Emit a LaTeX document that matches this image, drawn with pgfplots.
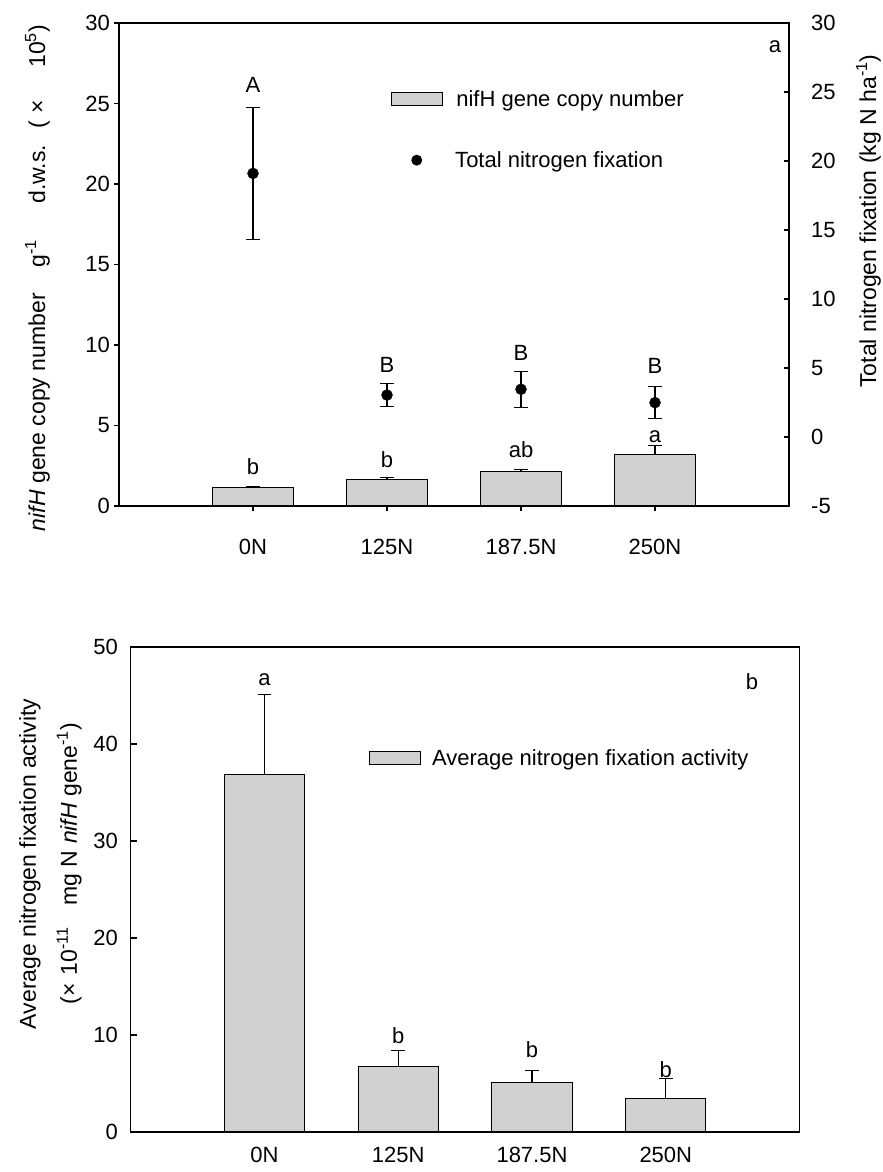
\documentclass[border=0pt]{standalone}
\usepackage{pgfplots}
\pgfplotsset{compat=1.18}
\usepackage{pgfplotstable}
\usepackage{fontspec}
\setmainfont{Liberation Sans}
\definecolor{barfill}{RGB}{208,209,208}
\newcommand{\fs}{\fontsize{22}{26}\selectfont}
\newcommand{\fl}{\fontsize{23}{27}\selectfont}

\pgfplotstableread{
x y e
1 1.15 0.07
2 1.67 0.10
3 2.17 0.11
4 3.21 0.54
}\nifh
\pgfplotstableread{
x y e
1 19.10 4.78
2 3.04 0.85
3 3.46 1.29
4 2.49 1.18
}\fix
\pgfplotstableread{
x y e
1 36.90 8.20
2 6.75 1.70
3 5.10 1.23
4 3.45 2.05
}\act

\pgfplotsset{
  common/.style={scale only axis, anchor=south west, xmin=0, xmax=5,
    /pgf/number format/assume math mode=true,
    axis line style={line width=1.1pt},
    every tick/.style={black, line width=1.1pt},
    tick label style={font=\fs},
    clip=false,
  },
  barplot/.style={ybar, bar width=0.6, bar shift=0pt, fill=barfill, draw=black, line width=1.1pt,
    legend image code/.code={\draw[fill=barfill, line width=1.1pt] (0pt,-6.25pt) rectangle (51pt,6.25pt);},
    error bars/.cd, y dir=plus, y explicit,
    error bar style={line width=1.1pt, black},
    error mark options={rotate=90, mark size=6.75pt, line width=1.1pt, black}},
}

\begin{document}
\begin{tikzpicture}[font=\fs]
\path[use as bounding box] (0pt,-1172pt) rectangle (883pt,0pt);

% ---------- top panel, left axis ----------
\begin{axis}[common,
  at={(119pt,-506pt)}, width=670pt, height=483pt,
  ymin=0, ymax=30, ytick={0,5,...,30},
  xtick={1,2,3,4}, xticklabels={0N,125N,187.5N,250N},
  xtick pos=bottom, ytick pos=left, tick align=outside, major tick length=5pt,
  xticklabel style={anchor=base, yshift=-43pt},
  yticklabel style={anchor=east, inner sep=0pt, xshift=-4pt},
  every axis y label/.style={at={(axis description cs:-0.1104,0.472)}, rotate=90, anchor=base, font=\fl},
  ylabel={\textit{nifH} gene copy number\hspace{26pt}g\textsuperscript{-1}\hspace{36pt}d.w.s.\hspace{16pt}(\hspace{8pt}×\hspace{32pt}10\textsuperscript{5})},
  legend style={draw=none, fill=none, at={(0.406,0.843)}, anchor=west, inner sep=0pt,
    column sep=13pt, nodes={inner sep=0pt, font=\fs}},
  legend cell align=left,
]
\addplot[barplot] table[x=x, y=y, y error=e]{\nifh};
\addlegendentry{nifH gene copy number}
\node at (axis cs:1,2.45) {b};
\node at (axis cs:2,2.88) {b};
\node at (axis cs:3,3.50) {ab};
\node at (axis cs:4,4.32) {a};
\node at (axis cs:1,26.16) {A};
\node at (axis cs:2,8.78) {B};
\node at (axis cs:3,9.50) {B};
\node at (axis cs:4,8.68) {B};
\node at (axis cs:4.896,28.5) {a};
\end{axis}

% ---------- top panel, right axis ----------
\begin{axis}[common,
  at={(119pt,-506pt)}, width=670pt, height=483pt,
  ymin=-5, ymax=30, ytick={-5,0,...,30},
  hide x axis, axis y line*=right, tick align=inside, major tick length=5pt,
  yticklabel style={anchor=west, inner sep=0pt, xshift=22pt},
  every axis y label/.style={at={(axis description cs:1.13,0.59)}, rotate=90, anchor=base, font=\fl},
  ylabel={Total nitrogen fixation (kg N ha\textsuperscript{-1})},
  legend style={draw=none, fill=none, at={(0.406,0.716)}, anchor=west, inner sep=0pt,
    column sep=13pt, nodes={inner sep=0pt, font=\fs}},
  legend cell align=left,
]
\addplot[only marks, mark=*, mark size=5.5pt, black,
  legend image code/.code={\path[draw=none] (0pt,0pt) -- (51pt,0pt); \fill[black, draw=none] (25.5pt,0pt) circle (5.5pt);},
  error bars/.cd, y dir=both, y explicit,
  error bar style={line width=1.1pt, black},
  error mark options={rotate=90, mark size=6.75pt, line width=1.1pt, black}]
  table[x=x, y=y, y error=e]{\fix};
\addlegendentry{Total nitrogen fixation}
\end{axis}

% ---------- bottom panel ----------
\begin{axis}[common,
  at={(130.6pt,-1132pt)}, width=669pt, height=485pt,
  ymin=0, ymax=50, ytick={0,10,...,50},
  xtick={1,2,3,4}, xticklabels={0N,125N,187.5N,250N},
  xtick pos=bottom, ytick pos=left, tick align=inside, major tick length=6pt,
  xtick style={draw=none},
  xticklabel style={anchor=base, yshift=-30pt},
  yticklabel style={anchor=east, inner sep=0pt, xshift=-12.6pt},
  every axis y label/.style={at={(axis description cs:-0.068,0.553)}, rotate=90, anchor=south, align=center, font=\fl},
  ylabel={Average nitrogen fixation activity\\[14pt](×\hspace{8pt}10\textsuperscript{-11}\hspace{22pt}mg N \textit{nifH} gene\textsuperscript{-1})},
  legend style={draw=none, fill=none, at={(0.356,0.771)}, anchor=west, inner sep=0pt,
    column sep=11pt, nodes={inner sep=0pt, font=\fs}},
  legend cell align=left,
]
\addplot[barplot] table[x=x, y=y, y error=e]{\act};
\addlegendentry{Average nitrogen fixation activity}
\node at (axis cs:1,46.6) {a};
\node at (axis cs:2,9.9) {b};
\node at (axis cs:3,8.45) {b};
\node at (axis cs:4,6.46) {b};
\node at (axis cs:4.645,46.4) {b};
\end{axis}
\end{tikzpicture}
\end{document}
